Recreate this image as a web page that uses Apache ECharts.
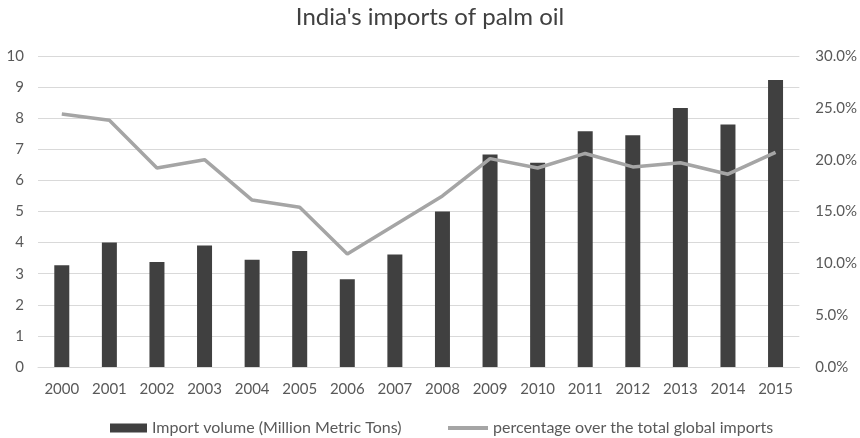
<!DOCTYPE html>
<html><head><meta charset="utf-8">
<script src="https://cdn.jsdelivr.net/npm/echarts@6/dist/echarts.min.js"></script>
<style>html,body{margin:0;padding:0;background:#fff}#c{width:860px;height:438px}</style>
</head><body><div id="c"></div>
<script>
const years = ['2000','2001','2002','2003','2004','2005','2006','2007','2008','2009','2010','2011','2012','2013','2014','2015'];
const importVolume = [3.27, 4.0, 3.38, 3.91, 3.45, 3.73, 2.82, 3.62, 5.0, 6.83, 6.57, 7.58, 7.45, 8.33, 7.8, 9.23];
const globalShare = [24.4, 23.8, 19.2, 20.0, 16.1, 15.4, 10.9, 13.7, 16.5, 20.1, 19.2, 20.6, 19.3, 19.7, 18.6, 20.7];
const leftTicks = [0, 10, 1];
const rightTicks = [0, 30, 5];
const barName = 'Import volume (Million Metric Tons)';
const lineName = 'percentage over the total global imports';

const F = 'Lato, "Open Sans", sans-serif';
const chart = echarts.init(document.getElementById('c'), null, {renderer: 'canvas'});
chart.setOption({
  animation: false,
  backgroundColor: '#fff',
  title: {
    text: "India's imports of palm oil",
    left: 'center', top: 0,
    textStyle: {fontFamily: F, fontSize: 24, fontWeight: 'normal', color: '#404040'}
  },
  legend: [
    {data: [barName], left: 105, top: 415, itemWidth: 37, itemHeight: 9, icon: 'rect', itemGap: 6,
     textStyle: {fontFamily: F, fontSize: 16, color: '#595959'}},
    {data: [lineName], left: 443, top: 415, itemWidth: 40, itemHeight: 4, icon: 'rect', itemGap: 2,
     textStyle: {fontFamily: F, fontSize: 16, color: '#595959'}}
  ],
  grid: {left: 38, right: 60, top: 56, bottom: 71, containLabel: false},
  xAxis: {
    type: 'category', data: years,
    axisLine: {show: true, lineStyle: {color: '#d9d9d9', width: 1}},
    axisTick: {show: false},
    axisLabel: {fontFamily: F, fontSize: 15, color: '#595959', margin: 15}
  },
  yAxis: [
    {type: 'value', min: leftTicks[0], max: leftTicks[1], interval: leftTicks[2],
     axisLine: {show: false}, axisTick: {show: false},
     splitLine: {lineStyle: {color: '#d9d9d9', width: 1.2}},
     axisLabel: {fontFamily: F, fontSize: 15, color: '#595959', margin: 14}},
    {type: 'value', min: rightTicks[0], max: rightTicks[1], interval: rightTicks[2],
     axisLine: {show: false}, axisTick: {show: false}, splitLine: {show: false},
     axisLabel: {fontFamily: F, fontSize: 15, color: '#595959', margin: 16,
       formatter: v => v.toFixed(1) + '%'}}
  ],
  series: [
    {name: barName, type: 'bar', data: importVolume, yAxisIndex: 0,
     barWidth: 15, itemStyle: {color: '#404040'}},
    {name: lineName, type: 'line', data: globalShare, yAxisIndex: 1,
     symbol: 'none', lineStyle: {color: '#a5a5a5', width: 3.5}, itemStyle: {color: '#a5a5a5'}, z: 3}
  ]
});
</script></body></html>
